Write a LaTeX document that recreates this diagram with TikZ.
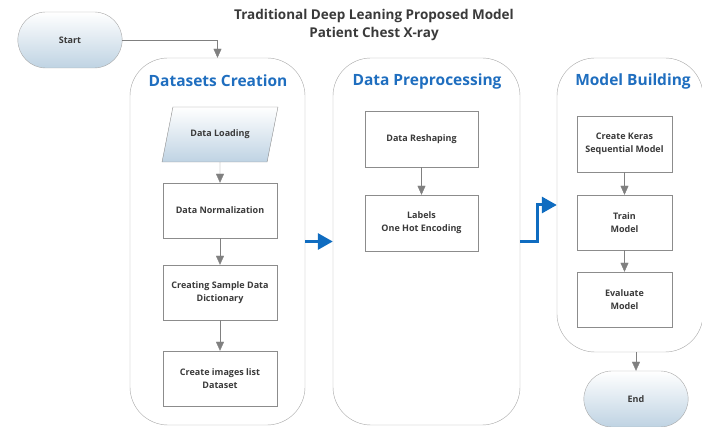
\documentclass[tikz,border=0pt]{standalone}
\usepackage{fontspec}
\setmainfont{Open Sans}
\usepackage{tikz}
\usetikzlibrary{arrows.meta}
\usetikzlibrary{positioning,shapes.misc,shapes.geometric}
\definecolor{boxgray}{HTML}{8C8C8C}
\definecolor{linegray}{HTML}{A8A8A8}
\definecolor{textgray}{HTML}{3A3A3A}
\definecolor{titleblue}{HTML}{1F6EBF}
\definecolor{arrowblue}{HTML}{0F6CC0}
\definecolor{shadeblue}{HTML}{BFD3E3}

\begin{document}
\begin{tikzpicture}[
x=1pt,y=-1pt,
MyBoxes/.style={draw=boxgray,fill=white,minimum width=114pt,minimum height=55pt,align=center,text=textgray,font=\bfseries\fontsize{9}{13}\selectfont},
MyTerminals/.style={rounded rectangle,draw=linegray,top color=white,bottom color=shadeblue,minimum width=111pt,minimum height=56pt,text=textgray,font=\bfseries\fontsize{9}{12}\selectfont},
MyLanes/.style={draw=linegray,rounded corners=38pt},
LaneTitles/.style={text=titleblue,font=\bfseries\fontsize{15.5}{18}\selectfont},
GrayArrows/.style={draw=gray,-{Triangle[length=9pt,width=8pt]}},
BlueArrows/.style={draw=arrowblue,line width=3pt,-{Triangle[length=15pt,width=16pt]}}
]
\useasboundingbox (0,0) rectangle (702,427);

% title
\node[align=center,text=textgray,font=\bfseries\fontsize{13.5}{18}\selectfont] (Title) at (374,25)
  {Traditional Deep Leaning Proposed Model\\Patient Chest X-ray};

% the three lanes
\node[MyLanes,minimum width=175pt,minimum height=367pt] (LaneA) at (217.5,241.5) {};
\node[MyLanes,minimum width=187pt,minimum height=367pt] (LaneB) at (426.5,241.5) {};
\node[MyLanes,minimum width=146pt,minimum height=294pt] (LaneC) at (630,205) {};

\node[LaneTitles] (TitleA) at (218,81) {Datasets Creation};
\node[LaneTitles] (TitleB) at (427,81) {Data Preprocessing};
\node[LaneTitles] (TitleC) at (633,81) {Model Building};

% start and end
\node[MyTerminals] (Start) at (70,40) {Start};
\node[MyTerminals] (End) at (636,399) {End};

% Datasets Creation
\node[MyBoxes,trapezium,trapezium left angle=64,trapezium right angle=116,trapezium stretches=true,
  minimum width=116pt,top color=white,bottom color=shadeblue] (Loading) at (220,134.5) {Data Loading};
\node[MyBoxes] (Norm) at (220,210.5) {Data Normalization};
\node[MyBoxes] (Dict) at (220,292.5) {Creating Sample Data\\Dictionary};
\node[MyBoxes] (ImgList) at (220,378.5) {Create images list\\Dataset};

% Data Preprocessing
\node[MyBoxes,minimum width=113pt,minimum height=56pt] (Reshape) at (421.5,139) {Data Reshaping};
\node[MyBoxes,minimum width=113pt,minimum height=56pt] (OneHot) at (421.5,223) {Labels\\One Hot Encoding};

% Model Building
\node[MyBoxes,minimum width=95pt,minimum height=56pt] (Keras) at (624.5,144) {Create Keras\\Sequential Model};
\node[MyBoxes,minimum width=95pt] (Train) at (624.5,222.5) {Train\\Model};
\node[MyBoxes,minimum width=95pt] (Evaluate) at (624.5,299.5) {Evaluate\\Model};

% connectors
\draw[GrayArrows] (Start.east) -| (LaneA.north);
\draw[GrayArrows] (Loading.south) -- (Norm.north);
\draw[GrayArrows] (Norm.south) -- (Dict.north);
\draw[GrayArrows] (Dict.south) -- (ImgList.north);
\draw[GrayArrows] (Reshape.south) -- (OneHot.north);
\draw[GrayArrows] (Keras.south) -- (Train.north);
\draw[GrayArrows] (Train.south) -- (Evaluate.north);
\draw[GrayArrows] (LaneC.south -| End.north) -- (End.north);

\draw[BlueArrows] (LaneA.east) -- (LaneB.west);
\draw[BlueArrows] (LaneB.east) -- ++(17,0) |- (LaneC.west);

\end{tikzpicture}
\end{document}
